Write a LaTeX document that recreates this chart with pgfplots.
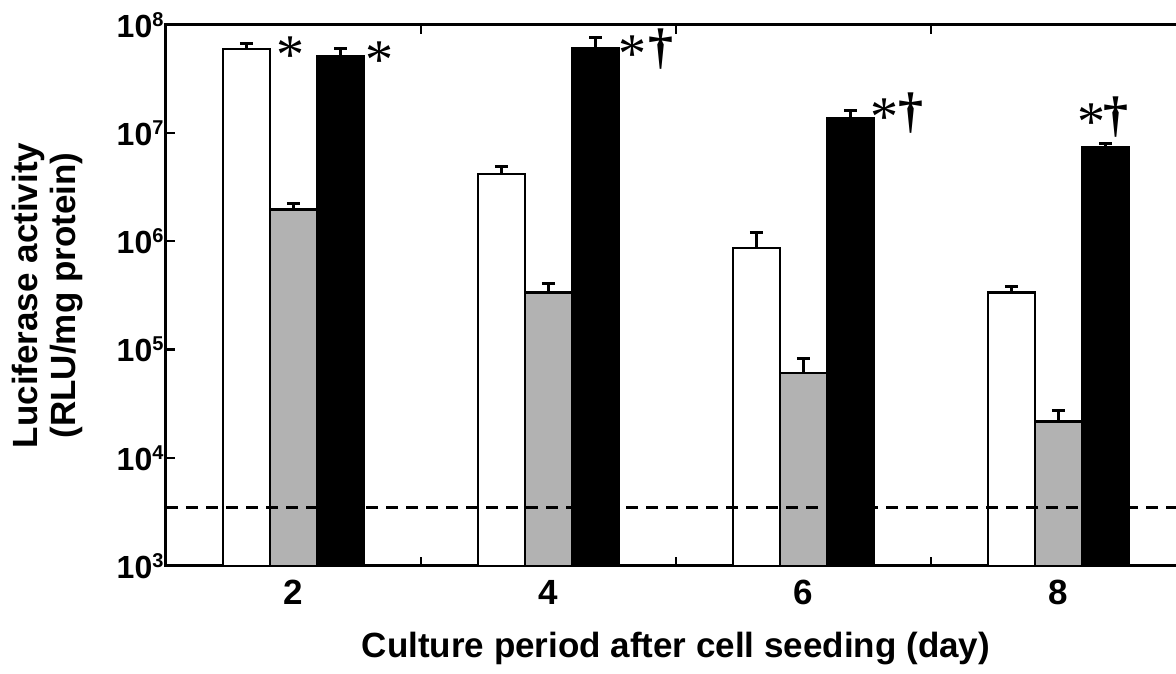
\documentclass[border=0pt]{standalone}
\usepackage{fontspec}
\setmainfont{Liberation Sans}
\newfontfamily\serifsym{Liberation Serif}
\usepackage{pgfplots}
\pgfplotsset{compat=1.18}
\definecolor{barGray}{RGB}{178,178,178}
\newcommand{\yl}[1]{10\raisebox{11pt}{\fontsize{20}{20}\selectfont #1}}
\begin{document}
\begin{tikzpicture}[x=1pt,y=1pt]
\begin{axis}[
  at={(166pt,107pt)}, anchor=south west,
  width=1020pt, height=541pt, scale only axis,
  xmin=1, xmax=9,
  ymode=log, ymin=1e3, ymax=1e8, log origin y=infty,
  ytick={1e3,1e4,1e5,1e6,1e7,1e8},
  yticklabels={\yl{3},\yl{4},\yl{5},\yl{6},\yl{7},\raisebox{-8pt}{\yl{8}}},
  yminorticks=false,
  xtick={3,5,7,9}, xticklabels={},
  extra x ticks={2,4,6,8}, extra x tick labels={2,4,6,8},
  extra x tick style={major tick length=0pt},
  tick align=inside,
  major tick length=9pt,
  axis line style={line width=3pt},
  every tick/.style={black, line width=2.2pt},
  yticklabel style={font=\bfseries\fontsize{32}{32}\selectfont, xshift=1pt},
  xticklabel style={font=\bfseries\fontsize{35}{35}\selectfont, yshift=-11pt},
  xlabel={Culture period after cell seeding (day)},
  ylabel={Luciferase activity\\(RLU/mg protein)},
  label style={font=\bfseries\fontsize{35}{38}\selectfont},
  xlabel style={at={(axis description cs:0.5,-0.152)}, anchor=center},
  ylabel style={at={(axis description cs:-0.1157,0.5)}, anchor=center, align=center},
  clip=false,
  mybar/.style={ybar, bar width=0.369, bar shift=0pt, draw=black, line width=2.5pt,
    error bars/y dir=plus, error bars/y explicit,
    error bars/error bar style={line width=3pt, black},
    error bars/error mark options={rotate=90, mark size=6.5pt, line width=3pt, black}},
]
% white bars
\addplot[mybar, fill=white] coordinates {
 (1.631,6.0e7) +- (0,8.0e6)
 (3.631,4.2e6) +- (0,7.7e5)
 (5.631,8.69e5) +- (0,3.3e5)
 (7.631,3.36e5) +- (0,4.3e4)
};
% gray bars
\addplot[mybar, fill=barGray] coordinates {
 (2,1.98e6) +- (0,2.8e5)
 (4,3.36e5) +- (0,6.8e4)
 (6,6.08e4) +- (0,2.28e4)
 (8,2.16e4) +- (0,5.6e3)
};
% black bars
\addplot[mybar, fill=black] coordinates {
 (2.369,5.14e7) +- (0,9.6e6)
 (4.369,6.1e7) +- (0,1.5e7)
 (6.369,1.37e7) +- (0,2.4e6)
 (8.369,7.35e6) +- (0,6.5e5)
};
% detection limit
\addplot[sharp plot, black, line width=3pt, dash pattern=on 12pt off 8pt, forget plot]
 coordinates {(1,3440) (9,3440)};
% significance marks
\tikzset{sig/.style={anchor=north, inner sep=0pt, font=\serifsym\fontsize{56}{56}\selectfont},
         dag/.style={anchor=north, inner sep=0pt, font=\serifsym\bfseries\fontsize{50}{50}\selectfont}}
\node[sig] at (axis cs:1.973,7.74e7) {*};
\node[sig] at (axis cs:2.671,6.97e7) {*};
\node[sig] at (axis cs:4.663,7.91e7) {*};
\node[dag] at (axis cs:4.882,9.18e7) {\textdagger};
\node[sig] at (axis cs:6.639,2.07e7) {*};
\node[dag] at (axis cs:6.843,2.36e7) {\textdagger};
\node[sig] at (axis cs:8.263,1.86e7) {*};
\node[dag] at (axis cs:8.451,2.16e7) {\textdagger};
\end{axis}
\pgfresetboundingbox
\useasboundingbox (0,0) rectangle (1176,673);
\end{tikzpicture}
\end{document}
